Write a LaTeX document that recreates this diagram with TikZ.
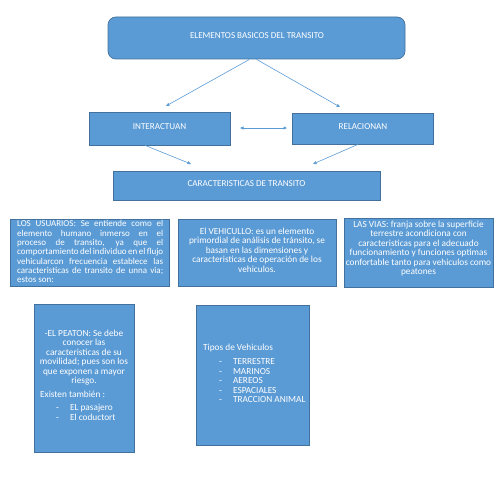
\documentclass[tikz,border=0pt]{standalone}
\usepackage{fontspec}
\setmainfont{Carlito}
\usetikzlibrary{arrows.meta}
\definecolor{boxfill}{HTML}{5B9BD5}
\definecolor{boxline}{HTML}{41719C}
\definecolor{arrowc}{HTML}{5B9BD5}
\hyphenpenalty=10000
\exhyphenpenalty=10000
\lefthyphenmin=64
\righthyphenmin=64
\newcommand{\jline}[1]{\makebox[146pt][s]{#1}\\}
\tikzset{
  box/.style={draw=boxline, line width=0.7pt, fill=boxfill, inner sep=0pt},
  title/.style={text=white, inner sep=0pt, font=\fontsize{9.1}{10}\selectfont},
  txt/.style={text=white, inner sep=0pt, font=\fontsize{9.3}{9.5}\selectfont},
  conn/.style={draw=arrowc, line width=0.6pt, -{Triangle[length=3.5pt,width=3pt]}},
  dconn/.style={draw=arrowc, line width=0.6pt, {Triangle[length=3.5pt,width=3pt]}-{Triangle[length=3.5pt,width=3pt]}}
}
\begin{document}
\begin{tikzpicture}[x=1pt,y=-1pt]
\useasboundingbox (0,0) rectangle (495,495);
% boxes
\node[box, rounded corners=8pt, minimum width=297pt, minimum height=42pt] (top) at (256.5,38) {};
\node[box, minimum width=141pt, minimum height=33pt] (inter) at (159.5,128.5) {};
\node[box, minimum width=141pt, minimum height=31pt] (rel) at (362.5,128.5) {};
\node[box, minimum width=267pt, minimum height=29pt] (car) at (246.5,185.5) {};
\node[box, minimum width=159pt, minimum height=67pt] (usu) at (89.5,252.5) {};
\node[box, minimum width=158pt, minimum height=67pt] (veh) at (257,252.5) {};
\node[box, minimum width=149pt, minimum height=69pt] (vias) at (418.5,252.5) {};
\node[box, minimum width=100pt, minimum height=148pt] (pea) at (84,378) {};
\node[box, minimum width=113pt, minimum height=140pt] (tip) at (252.5,375) {};
% titles
\node[title] (topt) at (257,35.5) {ELEMENTOS BASICOS DEL TRANSITO};
\node[title] (intert) at (159.5,126.5) {INTERACTUAN};
\node[title] (relt) at (363,126.5) {RELACIONAN};
\node[title] (cart) at (246.5,183.5) {CARACTERISTICAS DE TRANSITO};
% texts
\node[txt, font=\fontsize{9}{9.3}\selectfont, anchor=north west, align=left] (usut) at (17,220.5)
 {\jline{LOS USUARIOS: Se entiende como el}
  \jline{elemento humano inmerso en el}
  \jline{proceso de transito, ya que el}
  \jline{comportamiento del individuo en el flujo}
  \jline{vehicularcon frecuencia establece las}
  \jline{caracteristicas de transito de unna via;}
  estos son:};
\node[txt, anchor=north, align=center] (veht) at (257,227.5)
 {El VEHICULLO: es un elemento\\
  primordial de análisis de tránsito, se\\
  basan en las dimensiones y\\
  caracteristicas de operación de los\\
  vehiculos.};
\node[txt, anchor=north, align=center] (viast) at (418.5,220.5)
 {LAS VIAS: franja sobre la superficie\\
  terrestre acondiciona con\\
  caracteristicas para el adecuado\\
  funcionamiento y funciones optimas\\
  confortable tanto para vehiculos como\\
  peatones};
\node[txt, anchor=north, align=center] (peat) at (84,329.5)
 {-EL PEATON: Se debe\\ conocer las\\ caracteristicas de su\\ movilidad; pues son los\\ que exponen a mayor\\ riesgo.};
\node[txt, anchor=north west, align=left] (peal) at (40,391)
 {Existen también :\\[3.5pt]
  \hspace*{16pt}-\hspace{11pt}EL pasajero\\
  \hspace*{16pt}-\hspace{11pt}El coductort};
\node[txt, anchor=north west, align=left] (tipt) at (203,343.5)
 {Tipos de Vehiculos\\[5pt]
  \hspace*{16pt}-\hspace{11pt}TERRESTRE\\
  \hspace*{16pt}-\hspace{11pt}MARINOS\\
  \hspace*{16pt}-\hspace{11pt}AEREOS\\
  \hspace*{16pt}-\hspace{11pt}ESPACIALES\\
  \hspace*{16pt}-\hspace{11pt}TRACCION ANIMAL};
% connector end points
\coordinate (e1) at (166,106);
\coordinate (e2) at (340,107);
\coordinate (e3) at (191,164);
\coordinate (e4) at (313,164);
\coordinate (d1) at (240,128);
\coordinate (d2) at (287,128);
% connectors
\draw[conn] ([xshift=-7pt]top.south) -- (e1);
\draw[conn] ([xshift=0pt]top.south) -- (e2);
\draw[conn] ([xshift=-14.5pt]inter.south) -- (e3);
\draw[conn] ([xshift=-4.5pt]rel.south) -- (e4);
\draw[dconn] (d1) -- (d2);
\end{tikzpicture}
\end{document}
